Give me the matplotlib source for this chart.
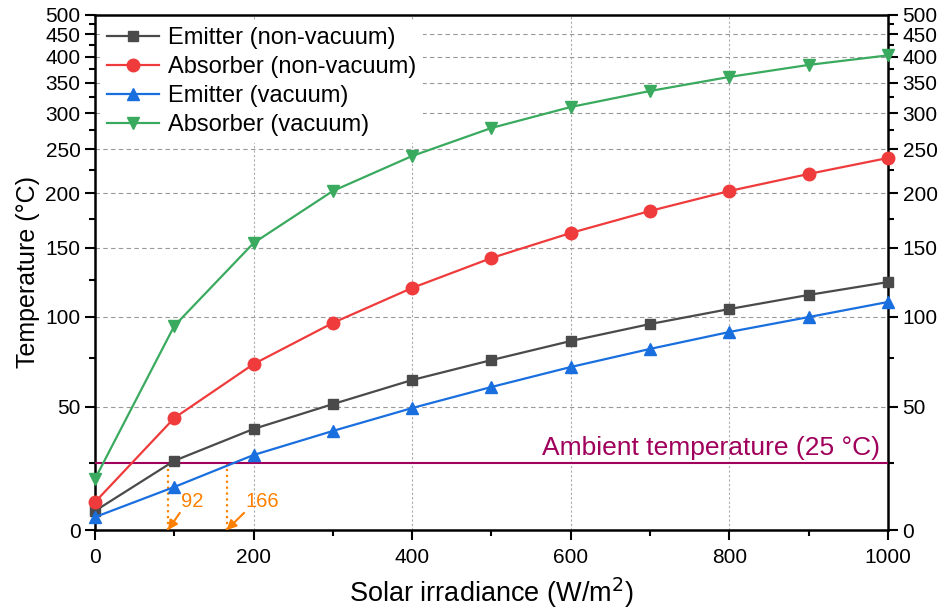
import numpy as np
import matplotlib as mpl
mpl.use('Agg')
import matplotlib.pyplot as plt
from matplotlib.ticker import MultipleLocator, FixedLocator

plt.rcParams['font.family'] = ['Liberation Sans', 'DejaVu Sans']

irradiance = [0, 100, 200, 300, 400, 500, 600, 700, 800, 900, 1000]
emitter_nonvac = [6.7, 26.0, 39.7, 51.3, 63.4, 74.1, 85.0, 95.3, 104.9, 114.4, 123.5]
absorber_nonvac = [9.9, 44.7, 71.9, 96.0, 119.3, 141.7, 162.5, 182.6, 202.5, 220.9, 239.5]
emitter_vac = [4.5, 15.6, 28.4, 38.8, 49.4, 59.8, 70.3, 80.4, 90.4, 99.7, 109.6]
absorber_vac = [18.7, 94.1, 153.9, 202.5, 241.9, 278.5, 309.5, 335.6, 360.5, 383.5, 403.0]

ambient = 25
cross_points = [92, 166]
cross_labels = ['92', '166']

y_major = list(range(0, 501, 50))
y_minor = list(range(25, 500, 50))

# reciprocal Kelvin scale, like Origin's
def fwd(t):
    return -1.0 / (np.asarray(t, dtype=float) + 273.15)

def inv(v):
    return -1.0 / np.asarray(v, dtype=float) - 273.15

fig = plt.figure(figsize=(9.44, 6.14), dpi=100)
ax = fig.add_axes([0.1006, 0.1368, 0.8401, 0.8388])
ax.set_yscale('function', functions=(fwd, inv))

series = [
    (emitter_nonvac, 'Emitter (non-vacuum)', '#4a4a4a', 's', 7.5),
    (absorber_nonvac, 'Absorber (non-vacuum)', '#ef3b3b', 'o', 9),
    (emitter_vac, 'Emitter (vacuum)', '#1a6fdf', '^', 9),
    (absorber_vac, 'Absorber (vacuum)', '#3aaa5f', 'v', 9),
]
for vals, lab, col, mk, ms in series:
    ax.plot(irradiance, vals, color=col, marker=mk, ms=ms, lw=1.6, label=lab,
            clip_on=False, zorder=5)

ax.axhline(ambient, color='#a0005c', lw=1.5, zorder=4)
ax.text(990, 31.5, 'Ambient temperature (25 °C)', color='#a0005c', fontsize=19,
        ha='right', va='center')

orange = '#ff8000'
for xc, lab, tx in zip(cross_points, cross_labels, [107, 188]):
    ax.plot([xc, xc], [0, ambient], ls=':', color=orange, lw=1.6, zorder=3)
    ax.annotate('', xy=(xc, 0), xytext=(tx, 6),
                arrowprops=dict(arrowstyle='-|>', color=orange, lw=1.5,
                                mutation_scale=14, shrinkA=0, shrinkB=0))
    ax.text(tx + 2, 10, lab, color=orange, fontsize=14.5, ha='left', va='center')

ax.set_xlim(0, 1000)
ax.set_ylim(0, 500)
ax.xaxis.set_major_locator(MultipleLocator(200))
ax.xaxis.set_minor_locator(MultipleLocator(100))
ax.yaxis.set_major_locator(FixedLocator(y_major))
ax.yaxis.set_minor_locator(FixedLocator(y_minor))

ax.grid(axis='y', which='major', ls=(0, (4, 3)), color='#999999', lw=0.8)
ax.grid(axis='x', which='major', ls=(0, (2, 2)), color='#aaaaaa', lw=0.8)
ax.set_axisbelow(True)

ax.tick_params(axis='both', which='both', direction='out', labelsize=15,
               width=1.5)
ax.tick_params(axis='y', which='both', right=True, labelright=True)
ax.tick_params(which='major', length=7)
ax.tick_params(which='minor', length=4)
ax.tick_params(axis='x', pad=6)
for s in ax.spines.values():
    s.set_linewidth(1.8)

ax.set_xlabel('Solar irradiance (W/m$^2$)', fontsize=19.5, labelpad=6)
ax.set_ylabel('Temperature (°C)', fontsize=18, labelpad=4)

leg = ax.legend(loc='upper left', fontsize=17, handlelength=2.2,
                labelspacing=0.3, borderaxespad=0.2, handletextpad=0.4,
                frameon=True, fancybox=False, borderpad=0.3)
leg.get_frame().set_edgecolor('none')
leg.get_frame().set_facecolor('white')
leg.get_frame().set_alpha(1)
leg.set_zorder(6)

fig.savefig('out.png', dpi=100)
